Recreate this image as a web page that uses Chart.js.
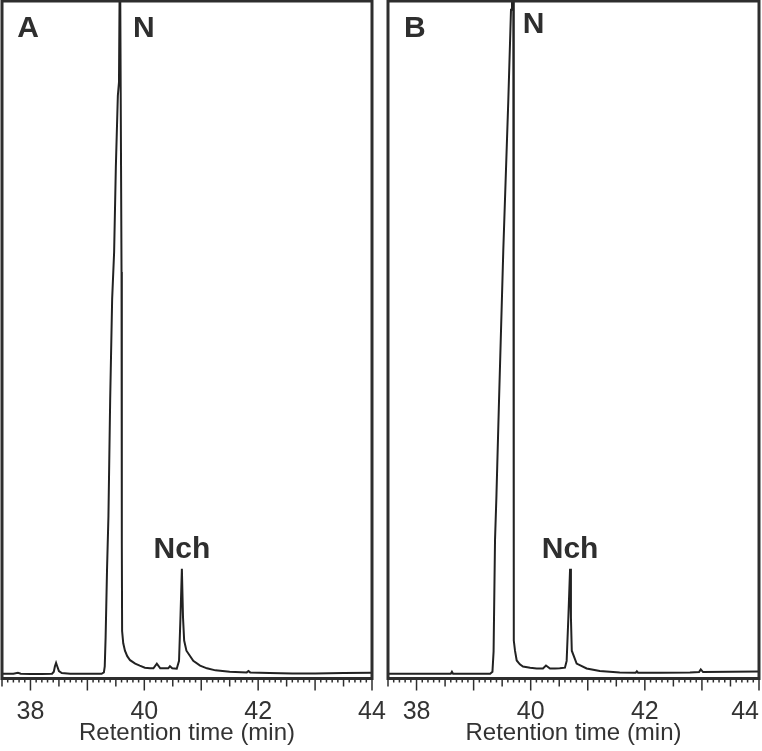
<!DOCTYPE html>
<html>
<head>
<meta charset="utf-8">
<script src="https://cdn.jsdelivr.net/npm/chart.js@4.4.1/dist/chart.umd.min.js"></script>
<style>
  html, body { margin: 0; padding: 0; background: #fff; overflow: hidden; }
  #wrap { position: relative; width: 762px; height: 751px; overflow: hidden; }
  #wrap canvas { position: absolute; left: 0; top: 0; }
</style>
</head>
<body>
<div id="wrap">
  <canvas id="panelA" width="800" height="751"></canvas>
  <canvas id="panelB" width="800" height="751"></canvas>
</div>
<script>
// Chromatograms A / B — retention time (min) vs detector signal (arbitrary, % of full scale)
const X_MIN = 37.5, X_MAX = 44;
const Y_MIN = 0, Y_MAX = 100;

const timesA = [37.50, 37.70, 37.78, 37.83, 38.00, 38.20, 38.38, 38.41, 38.43, 38.45, 38.47, 38.50, 38.55, 38.70,
  39.00, 39.25, 39.29, 39.305, 39.32, 39.345, 39.37, 39.40, 39.435, 39.47, 39.50, 39.535, 39.555, 39.565, 39.575,
  39.59, 39.60, 39.605, 39.61, 39.63, 39.66, 39.70, 39.75, 39.84, 39.92, 40.01, 40.10, 40.16, 40.22, 40.28,
  40.42, 40.45, 40.49, 40.57, 40.61, 40.635, 40.66, 40.68, 40.70, 40.74, 40.86, 40.98, 41.10, 41.25, 41.50,
  41.80, 41.83, 41.86, 42.20, 42.60, 43.00, 43.50, 44.00];
const signalA = [0.7, 0.7, 0.85, 0.7, 0.65, 0.65, 0.7, 1.0, 1.8, 2.3, 1.8, 1.1, 0.8, 0.7,
  0.7, 0.7, 0.9, 1.8, 6, 16, 24, 41, 56, 63, 75.5, 86, 88, 100, 105,
  105, 60, 20, 7, 5.2, 4.1, 3.3, 2.7, 2.2, 1.9, 1.6, 1.5, 1.5, 2.2, 1.5,
  1.5, 1.8, 1.5, 1.45, 2.6, 9, 16.2, 9, 5.6, 4.1, 2.6, 1.9, 1.5, 1.2, 1.0,
  0.9, 1.1, 0.9, 0.8, 0.75, 0.75, 0.8, 0.85];

const timesB = [37.50, 38.00, 38.40, 38.60, 38.62, 38.64, 39.00, 39.29, 39.33, 39.35, 39.375, 39.40, 39.445, 39.52,
  39.608, 39.655, 39.672, 39.695, 39.70, 39.705, 39.707, 39.725, 39.755, 39.81, 39.865, 39.99, 40.105, 40.215,
  40.268, 40.338, 40.426, 40.51, 40.60, 40.63, 40.66, 40.69, 40.705, 40.72, 40.805, 40.98, 41.21, 41.56,
  41.84, 41.86, 41.88, 42.27, 42.79, 42.95, 42.98, 43.02, 43.50, 44.00];
const signalB = [0.7, 0.7, 0.7, 0.7, 1.0, 0.7, 0.7, 0.7, 1.0, 4, 20.4, 27, 41, 63.2,
  85.4, 98.7, 105, 100, 50, 12, 5.6, 4.1, 2.66, 2.1, 1.77, 1.6, 1.48, 1.48,
  1.92, 1.48, 1.48, 1.5, 1.6, 2.6, 9, 16.2, 9, 4.1, 2.2, 1.48, 1.1, 0.9,
  0.85, 1.05, 0.85, 0.85, 0.9, 0.95, 1.35, 0.95, 1.0, 1.05];

// peak / panel labels: [text, time, signal]
const labelsA = [['A', 37.96, 94.7], ['N', 39.99, 94.7], ['Nch', 40.66, 17.8]];
const labelsB = [['B', 37.97, 94.7], ['N', 40.05, 95.3], ['Nch', 40.69, 17.8]];

const INK = '#2e2e2e';
const FONT = "'Liberation Sans', Arial, sans-serif";

function frameAndTicks(labels) {
  return {
    id: 'frameAndTicks',
    afterDraw(chart) {
      const { ctx, chartArea: a, scales: { x, y } } = chart;
      ctx.save();
      ctx.strokeStyle = INK;
      // ticks every 0.1 min, longer at half and whole minutes
      ctx.lineWidth = 1.5;
      x.ticks.forEach(t => {
        const v = t.value;
        const whole = Math.abs(v - Math.round(v)) < 1e-6;
        const half = Math.abs(v * 2 - Math.round(v * 2)) < 1e-6;
        const len = whole ? 12 : half ? 8 : 4;
        const px = x.getPixelForValue(v);
        ctx.beginPath();
        ctx.moveTo(px, a.bottom);
        ctx.lineTo(px, a.bottom + len);
        ctx.stroke();
      });
      // box
      ctx.lineWidth = 3;
      ctx.strokeRect(a.left, a.top, a.right - a.left, a.bottom - a.top);
      // labels
      ctx.fillStyle = INK;
      ctx.font = 'bold 30px ' + FONT;
      ctx.textAlign = 'center';
      ctx.textBaseline = 'alphabetic';
      labels.forEach(([txt, tx, ty]) => {
        ctx.fillText(txt, x.getPixelForValue(tx), y.getPixelForValue(ty));
      });
      ctx.restore();
    }
  };
}

function drawPanel(id, times, signal, labels, padLeft, padRight, tickAlign) {
  return new Chart(document.getElementById(id), {
    type: 'line',
    data: {
      datasets: [{
        data: times.map((t, i) => ({ x: t, y: signal[i] })),
        borderColor: '#222',
        borderWidth: 2,
        pointRadius: 0,
        tension: 0,
      }]
    },
    options: {
      responsive: false,
      animation: false,
      devicePixelRatio: 1,
      layout: { padding: { left: padLeft, right: padRight, top: 1, bottom: 5.5 } },
      plugins: { legend: { display: false }, tooltip: { enabled: false } },
      scales: {
        x: {
          type: 'linear',
          min: X_MIN, max: X_MAX,
          border: { display: false },
          // tick marks themselves come from the plugin; tickLength only spaces the labels
          grid: { drawOnChartArea: false, drawTicks: true, tickLength: 21, tickColor: 'rgba(0,0,0,0)' },
          ticks: {
            stepSize: 0.1,
            autoSkip: false,
            maxRotation: 0,
            padding: 0,
            align: tickAlign,
            color: '#333',
            font: { family: FONT, size: 25, lineHeight: 1 },
            callback: v => Math.abs(v / 2 - Math.round(v / 2)) < 1e-6 ? String(Math.round(v)) : ''
          },
          title: {
            display: true,
            text: 'Retention time (min)',
            color: '#333',
            font: { family: FONT, size: 24, lineHeight: 1 },
            padding: { top: -3, bottom: 0 }
          }
        },
        y: { display: false, min: Y_MIN, max: Y_MAX }
      }
    },
    plugins: [frameAndTicks(labels)]
  });
}

// canvases are 800 wide so the "44" label of A can hang past its box
drawPanel('panelA', timesA, signalA, labelsA, 2, 800 - 372, 'center');
// in B the last label is pulled inside the frame, as in the figure
drawPanel('panelB', timesB, signalB, labelsB, 388, 800 - 759, 'inner');
</script>
</body>
</html>
